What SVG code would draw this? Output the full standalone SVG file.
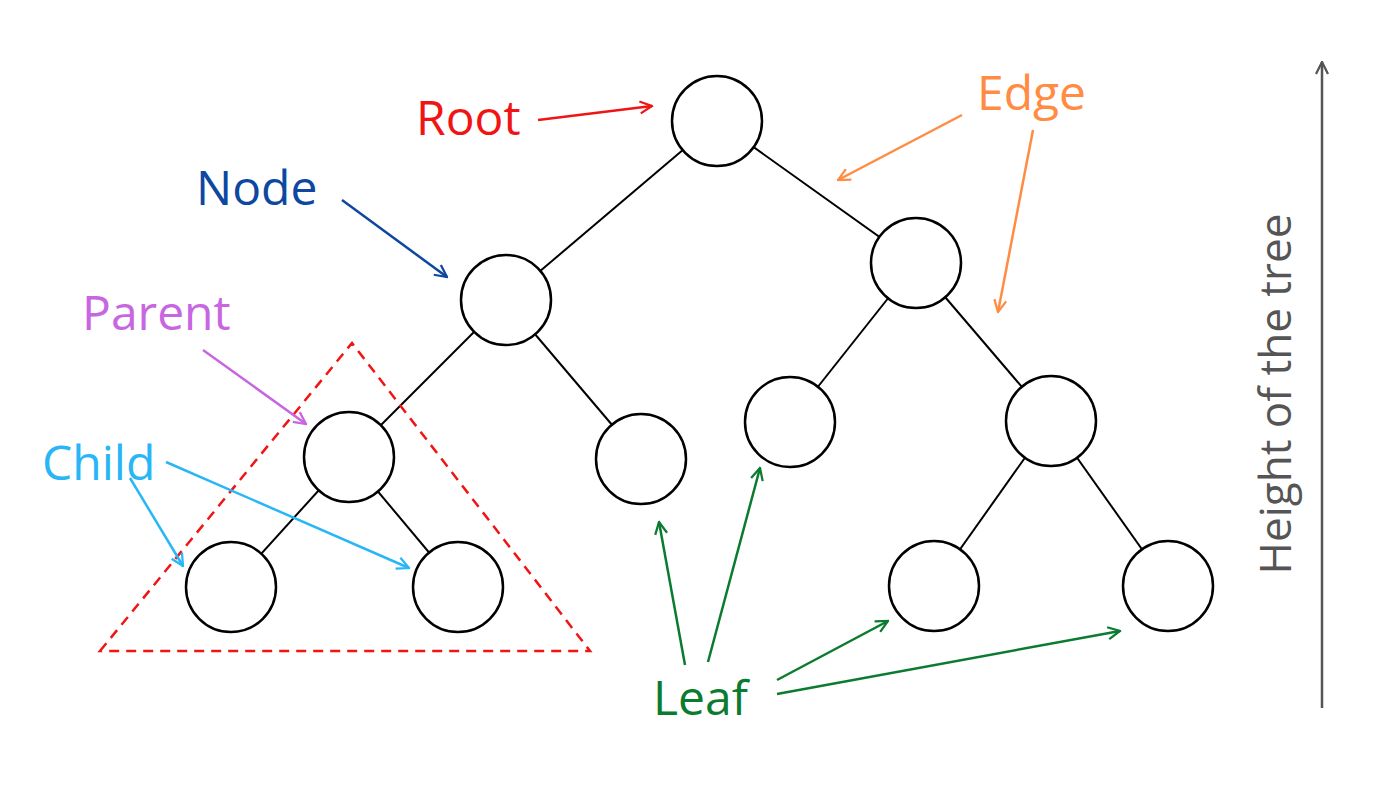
<svg xmlns="http://www.w3.org/2000/svg" width="1400" height="788" viewBox="0 0 1400 788">
<style>
.n{fill:#fff;stroke:#000;stroke-width:2.5}
.e{stroke:#000;stroke-width:2}
.t{font-family:"Open Sans","Noto Sans",sans-serif;font-size:48px}
.a{fill:none;stroke-width:2.5}
</style>
<defs>
<marker id="mr" viewBox="0 0 10 10" refX="9" refY="5" markerWidth="6" markerHeight="6" orient="auto" markerUnits="strokeWidth"><path d="M1,1 L9,5 L1,9" fill="none" stroke="#f01414" stroke-width="1.5"/></marker>
<marker id="mo" viewBox="0 0 10 10" refX="9" refY="5" markerWidth="6" markerHeight="6" orient="auto" markerUnits="strokeWidth"><path d="M1,1 L9,5 L1,9" fill="none" stroke="#ff8c42" stroke-width="1.5"/></marker>
<marker id="mb" viewBox="0 0 10 10" refX="9" refY="5" markerWidth="6" markerHeight="6" orient="auto" markerUnits="strokeWidth"><path d="M1,1 L9,5 L1,9" fill="none" stroke="#0d47a1" stroke-width="1.5"/></marker>
<marker id="mp" viewBox="0 0 10 10" refX="9" refY="5" markerWidth="6" markerHeight="6" orient="auto" markerUnits="strokeWidth"><path d="M1,1 L9,5 L1,9" fill="none" stroke="#c766e0" stroke-width="1.5"/></marker>
<marker id="mc" viewBox="0 0 10 10" refX="9" refY="5" markerWidth="6" markerHeight="6" orient="auto" markerUnits="strokeWidth"><path d="M1,1 L9,5 L1,9" fill="none" stroke="#29b6f6" stroke-width="1.5"/></marker>
<marker id="mg" viewBox="0 0 10 10" refX="9" refY="5" markerWidth="6" markerHeight="6" orient="auto" markerUnits="strokeWidth"><path d="M1,1 L9,5 L1,9" fill="none" stroke="#0a7b2f" stroke-width="1.5"/></marker>
<marker id="mk" viewBox="0 0 10 10" refX="9" refY="5" markerWidth="6" markerHeight="6" orient="auto" markerUnits="strokeWidth"><path d="M1,1 L9,5 L1,9" fill="none" stroke="#555" stroke-width="1.5"/></marker>
</defs>
<g id="connectors">
<line class="e" x1="717" y1="121" x2="506" y2="300"/>
<line class="e" x1="717" y1="121" x2="916" y2="263"/>
<line class="e" x1="506" y1="300" x2="349" y2="457"/>
<line class="e" x1="506" y1="300" x2="641" y2="459"/>
<line class="e" x1="916" y1="263" x2="790" y2="422"/>
<line class="e" x1="916" y1="263" x2="1051" y2="421"/>
<line class="e" x1="349" y1="457" x2="231" y2="587"/>
<line class="e" x1="349" y1="457" x2="458" y2="587"/>
<line class="e" x1="1051" y1="421" x2="934" y2="586"/>
<line class="e" x1="1051" y1="421" x2="1168" y2="586"/>
</g>
<g id="nodes">
<g id="root"><circle class="n" cx="717" cy="121" r="45"/></g>
<g id="n1"><circle class="n" cx="506" cy="300" r="45"/></g>
<g id="n2"><circle class="n" cx="916" cy="263" r="45"/></g>
<g id="n3"><circle class="n" cx="349" cy="457" r="45"/></g>
<g id="n4"><circle class="n" cx="641" cy="459" r="45"/></g>
<g id="n5"><circle class="n" cx="790" cy="422" r="45"/></g>
<g id="n6"><circle class="n" cx="1051" cy="421" r="45"/></g>
<g id="n7"><circle class="n" cx="231" cy="587" r="45"/></g>
<g id="n8"><circle class="n" cx="458" cy="587" r="45"/></g>
<g id="n9"><circle class="n" cx="934" cy="586" r="45"/></g>
<g id="n10"><circle class="n" cx="1168" cy="586" r="45"/></g>
</g>
<g id="subtree"><path d="M100,651 L352,343 L590,651 Z" fill="none" stroke="#f01414" stroke-width="2.5" stroke-dasharray="10,7"/></g>
<g id="labels">
<text class="t" x="416" y="135" fill="#f01414">Root</text>
<line class="a" stroke="#f01414" x1="538" y1="120" x2="652" y2="106" marker-end="url(#mr)"/>
<text class="t" x="977" y="110" fill="#ff8c42">Edge</text>
<line class="a" stroke="#ff8c42" x1="962" y1="115" x2="838" y2="180" marker-end="url(#mo)"/>
<line class="a" stroke="#ff8c42" x1="1033" y1="130" x2="998" y2="312" marker-end="url(#mo)"/>
<text class="t" x="196" y="205" fill="#0d47a1">Node</text>
<line class="a" stroke="#0d47a1" x1="342" y1="200" x2="447" y2="277" marker-end="url(#mb)"/>
<text class="t" x="82" y="330" fill="#c766e0">Parent</text>
<line class="a" stroke="#c766e0" x1="203" y1="350" x2="306" y2="424" marker-end="url(#mp)"/>
<text class="t" x="42" y="480" fill="#29b6f6">Child</text>
<line class="a" stroke="#29b6f6" x1="130" y1="478" x2="183" y2="566" marker-end="url(#mc)"/>
<line class="a" stroke="#29b6f6" x1="166" y1="462" x2="409" y2="568" marker-end="url(#mc)"/>
<text class="t" x="653" y="715" fill="#0a7b2f">Leaf</text>
<line class="a" stroke="#0a7b2f" x1="685" y1="665" x2="659" y2="522" marker-end="url(#mg)"/>
<line class="a" stroke="#0a7b2f" x1="708" y1="662" x2="760" y2="468" marker-end="url(#mg)"/>
<line class="a" stroke="#0a7b2f" x1="777" y1="680" x2="888" y2="621" marker-end="url(#mg)"/>
<line class="a" stroke="#0a7b2f" x1="777" y1="694" x2="1120" y2="631" marker-end="url(#mg)"/>
<line class="a" stroke="#555" x1="1322" y1="708" x2="1322" y2="62" marker-end="url(#mk)"/>
<text class="t" transform="translate(1291,394) rotate(-90)" text-anchor="middle" font-size="44" fill="#555" style="font-size:44px">Height of the tree</text>
</g>
</svg>
